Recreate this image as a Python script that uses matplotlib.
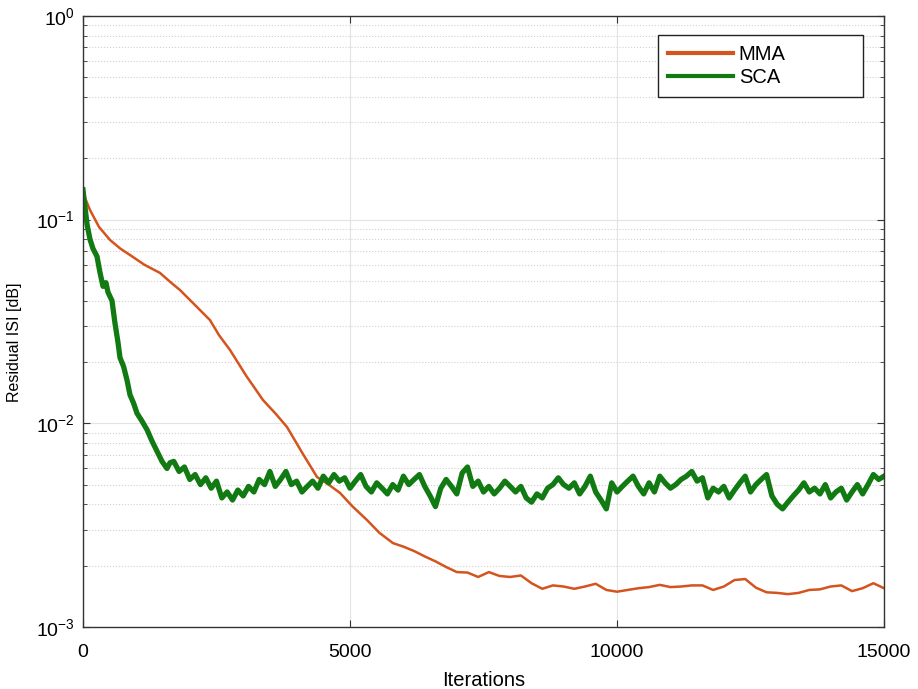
import matplotlib.pyplot as plt
import numpy as np
from matplotlib.ticker import LogLocator, NullFormatter

plt.rcParams['font.family'] = ['Liberation Sans', 'DejaVu Sans']
plt.rcParams['mathtext.fontset'] = 'custom'
plt.rcParams['mathtext.rm'] = 'Liberation Sans'

# MMA: fast-varying head read point by point, tail sampled every 200 iterations
mma_head_iter = [0, 131, 300, 506, 700, 880, 1150, 1442, 1650, 1816, 2100, 2378,
                 2550, 2753, 3050, 3371, 3600, 3820, 4100, 4382, 4600, 4813,
                 5050, 5318, 5550, 5805, 6000]
mma_head_isi = [0.135, 0.1115, 0.092, 0.0794, 0.072, 0.0670, 0.060, 0.0547,
                0.049, 0.0451, 0.038, 0.0321, 0.027, 0.0229, 0.0172, 0.0130,
                0.0112, 0.00959, 0.0072, 0.00545, 0.0050, 0.00455, 0.0039,
                0.00335, 0.0029, 0.00258, 0.00248]
mma_tail_iter = np.arange(6200, 15001, 200)
mma_tail_isi = np.array([
    2.36, 2.22, 2.10, 1.97, 1.86, 1.85, 1.76, 1.86, 1.78, 1.76,
    1.79, 1.64, 1.54, 1.60, 1.58, 1.54, 1.58, 1.63, 1.52, 1.49,
    1.52, 1.55, 1.57, 1.61, 1.57, 1.58, 1.60, 1.60, 1.52, 1.58,
    1.70, 1.72, 1.56, 1.48, 1.47, 1.45, 1.47, 1.52, 1.53, 1.58,
    1.60, 1.50, 1.55, 1.64, 1.55]) * 1e-3

# SCA: steep head read point by point, plateau sampled every 100 iterations
sca_head_iter = [0, 37, 75, 131, 187, 262, 318, 375, 430, 468, 543, 599, 655,
                 693, 760, 824, 880, 950, 1011, 1100, 1199, 1290, 1386, 1480,
                 1573, 1629]
sca_head_isi = [0.140, 0.115, 0.095, 0.080, 0.072, 0.066, 0.055, 0.047, 0.049,
                0.044, 0.040, 0.031, 0.025, 0.021, 0.019, 0.0163, 0.0138,
                0.0125, 0.0112, 0.0103, 0.0093, 0.0082, 0.0073, 0.0065,
                0.0060, 0.0064]
sca_tail_iter = np.arange(1700, 15001, 100)
sca_tail_isi = np.array([
    6.5, 5.8, 6.1, 5.3, 5.6, 5.0, 5.4, 4.8, 5.2, 4.3,
    4.6, 4.2, 4.7, 4.4, 4.9, 4.6, 5.3, 5.0, 5.8, 4.9,
    5.3, 5.8, 5.0, 5.2, 4.6, 4.9, 5.2, 4.8, 5.5, 5.1,
    5.6, 5.2, 5.4, 4.8, 5.2, 5.6, 4.9, 4.6, 5.1, 4.8,
    4.5, 5.0, 4.7, 5.5, 5.0, 5.3, 5.6, 4.9, 4.4, 3.9,
    4.8, 5.3, 4.9, 4.5, 5.7, 6.1, 4.9, 5.2, 4.6, 4.9,
    4.5, 4.8, 5.2, 4.9, 4.6, 4.9, 4.3, 4.1, 4.5, 4.3,
    4.8, 5.0, 5.4, 5.0, 4.8, 5.1, 4.5, 4.9, 5.5, 4.6,
    4.2, 3.8, 5.1, 4.6, 4.9, 5.2, 5.5, 4.9, 4.5, 5.1,
    4.6, 5.5, 5.1, 4.8, 5.0, 5.3, 5.5, 5.8, 5.2, 5.4,
    4.3, 4.8, 4.6, 4.9, 4.3, 4.7, 5.1, 5.5, 4.6, 5.0,
    5.3, 5.6, 4.4, 4.0, 3.8, 4.1, 4.4, 4.7, 5.1, 4.6,
    4.8, 4.5, 5.0, 4.3, 4.6, 4.8, 4.2, 4.6, 5.0, 4.5,
    5.0, 5.6, 5.3, 5.5]) * 1e-3

mma_iter = np.concatenate([mma_head_iter, mma_tail_iter])
mma_isi = np.concatenate([mma_head_isi, mma_tail_isi])
sca_iter = np.concatenate([sca_head_iter, sca_tail_iter])
sca_isi = np.concatenate([sca_head_isi, sca_tail_isi])

fig = plt.figure(figsize=(9.18, 6.89), dpi=100)
ax = fig.add_axes([0.0904, 0.090, 0.8726, 0.887])

ax.plot(mma_iter, mma_isi, color='#D4541E', linewidth=1.8, label='MMA')
ax.plot(sca_iter, sca_isi, color='#127A12', linewidth=3.8, label='SCA')

ax.set_yscale('log')
ax.set_xlim(0, 15000)
ax.set_ylim(1e-3, 1e0)
ax.set_xticks([0, 5000, 10000, 15000])
ax.yaxis.set_major_locator(LogLocator(base=10, numticks=10))
ax.yaxis.set_minor_locator(LogLocator(base=10, subs=range(2, 10), numticks=20))
ax.yaxis.set_minor_formatter(NullFormatter())

ax.grid(True, which='major', color='#E3E3E3', linewidth=0.8, linestyle='-')
ax.grid(True, which='minor', axis='y', color='#D0D0D0', linewidth=0.8, linestyle=':')
ax.set_axisbelow(True)

ax.tick_params(which='both', direction='in', top=True, right=True, labelsize=14,
               color='#333333', pad=6)
ax.tick_params(axis='x', which='major', pad=12)
ax.tick_params(which='major', length=5)
ax.tick_params(which='minor', length=3)
for s in ax.spines.values():
    s.set_color('#333333')
    s.set_linewidth(1.0)

ax.set_xlabel('Iterations', fontsize=14.5)
ax.xaxis.set_label_coords(0.5, -0.072)
ax.set_ylabel('Residual ISI [dB]', fontsize=11.5)
ax.yaxis.set_label_coords(-0.076, 0.466)

leg = ax.legend(loc='upper left', bbox_to_anchor=(0.718, 0.871, 0.256, 0.098),
                mode='expand', borderaxespad=0, fontsize=14.5, handlelength=3.2,
                handletextpad=0.3, fancybox=False, framealpha=1, edgecolor='#222222',
                borderpad=0.5, labelspacing=0.2)
leg.get_frame().set_linewidth(1.0)
for line in leg.get_lines():
    line.set_linewidth(3.0)

fig.savefig('out.png', dpi=100)
